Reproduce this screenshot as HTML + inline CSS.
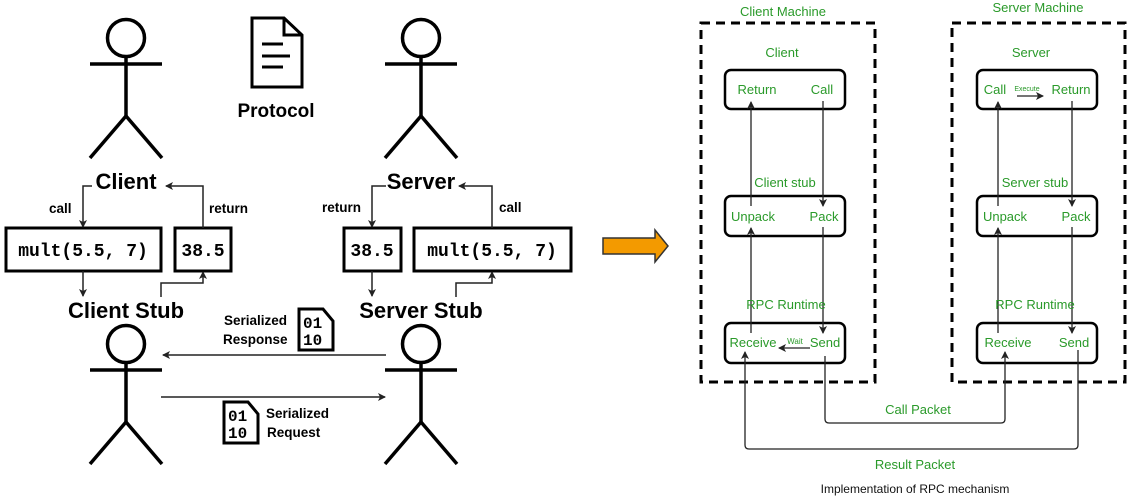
<!DOCTYPE html>
<html><head><meta charset="utf-8"><style>
html,body{margin:0;padding:0;background:#fff;}
svg{display:block;}
.b{font-family:"Liberation Sans",sans-serif;font-weight:bold;fill:#000;}
.m{font-family:"Liberation Mono",monospace;font-weight:bold;font-size:18px;fill:#000;}
.g{font-family:"Liberation Sans",sans-serif;font-size:13px;fill:#2a9a2a;}
</style></head><body>
<svg width="1140" height="501" viewBox="0 0 1140 501" xmlns="http://www.w3.org/2000/svg">
<defs>
<marker id="a" markerWidth="8" markerHeight="8" refX="7" refY="4" orient="auto" markerUnits="userSpaceOnUse"><path d="M0,0 L8,4 L0,8 L2,4 z" fill="#222"/></marker>
<g id="fig" stroke="#000" stroke-width="3.5" fill="none">
<circle cx="0" cy="0" r="18.5"/>
<line x1="0" y1="18" x2="0" y2="78"/>
<line x1="-36" y1="26" x2="36" y2="26"/>
<line x1="0" y1="78" x2="-36" y2="120"/>
<line x1="0" y1="78" x2="36" y2="120"/>
</g>
<g id="bin">
<path d="M0,0 L24,0 L34,12 L34,41 L0,41 z" fill="#fff" stroke="#000" stroke-width="3"/>
<text x="4" y="19" font-family="Liberation Mono,monospace" font-weight="bold" font-size="16">01</text>
<text x="4" y="36" font-family="Liberation Mono,monospace" font-weight="bold" font-size="16">10</text>
</g>
</defs>
<use href="#fig" x="126" y="38"/>
<use href="#fig" x="421" y="38"/>
<use href="#fig" x="126" y="344"/>
<use href="#fig" x="421" y="344"/>
<path d="M252,18 L284,18 L302,35 L302,87 L252,87 z" fill="#fff" stroke="#000" stroke-width="3"/>
<path d="M284,18 L284,35 L302,35" fill="none" stroke="#000" stroke-width="3"/>
<line x1="262" y1="44" x2="283" y2="44" stroke="#000" stroke-width="3"/>
<line x1="262" y1="56" x2="290" y2="56" stroke="#000" stroke-width="3"/>
<line x1="262" y1="67" x2="283" y2="67" stroke="#000" stroke-width="3"/>
<text x="276" y="117" class="b" font-size="19" text-anchor="middle">Protocol</text>
<text x="126" y="189" class="b" font-size="22" text-anchor="middle">Client</text>
<text x="421" y="189" class="b" font-size="22" text-anchor="middle">Server</text>
<text x="126" y="318" class="b" font-size="22" text-anchor="middle">Client Stub</text>
<text x="421" y="318" class="b" font-size="22" text-anchor="middle">Server Stub</text>
<g fill="#fff" stroke="#000" stroke-width="3">
<rect x="6" y="228" width="155" height="43"/>
<rect x="175" y="228" width="56" height="43"/>
<rect x="344" y="228" width="57" height="43"/>
<rect x="414" y="228" width="157" height="43"/>
</g>
<text x="83" y="256" class="m" text-anchor="middle">mult(5.5, 7)</text>
<text x="203" y="256" class="m" text-anchor="middle">38.5</text>
<text x="372" y="256" class="m" text-anchor="middle">38.5</text>
<text x="492" y="256" class="m" text-anchor="middle">mult(5.5, 7)</text>
<g fill="none" stroke="#222" stroke-width="1.5" marker-end="url(#a)">
<path d="M92,186 L83,186 L83,227"/>
<path d="M203,228 L203,186 L166,186"/>
<path d="M83,271 L83,296"/>
<path d="M161,297 L161,283 L203,283 L203,272"/>
<path d="M386,186 L372,186 L372,227"/>
<path d="M492,228 L492,186 L459,186"/>
<path d="M372,271 L372,296"/>
<path d="M456,297 L456,283 L492,283 L492,272"/>
<path d="M386,355 L163,355"/>
<path d="M161,397 L385,397"/>
</g>
<g class="b" style="font-size:13.5px">
<text x="49" y="213">call</text>
<text x="209" y="213">return</text>
<text x="322" y="212">return</text>
<text x="499" y="212">call</text>
<text x="224" y="325">Serialized</text>
<text x="223" y="344">Response</text>
<text x="266" y="418">Serialized</text>
<text x="267" y="437">Request</text>
</g>
<use href="#bin" x="299" y="309"/>
<use href="#bin" x="224" y="402"/>
<path d="M603,238 L655,238 L655,230 L668,246 L655,262 L655,254 L603,254 z" fill="#f39a00" stroke="#333" stroke-width="1.5"/>
<g fill="none" stroke="#000" stroke-width="3" stroke-dasharray="9,6">
<rect x="701" y="23" width="174" height="359"/>
<rect x="952" y="23" width="173" height="359"/>
</g>
<g fill="none" stroke="#000" stroke-width="2.5">
<rect x="725" y="70" width="120" height="39" rx="6"/>
<rect x="725" y="196" width="120" height="40" rx="6"/>
<rect x="725" y="323" width="120" height="40" rx="6"/>
<rect x="977" y="70" width="120" height="39" rx="6"/>
<rect x="977" y="196" width="120" height="40" rx="6"/>
<rect x="977" y="323" width="120" height="40" rx="6"/>
</g>
<g fill="none" stroke="#222" stroke-width="1.3" marker-end="url(#a)">
<path d="M751,206 L751,102"/>
<path d="M751,333 L751,228"/>
<path d="M823,101 L823,206"/>
<path d="M823,227 L823,333"/>
<path d="M998,206 L998,102"/>
<path d="M998,333 L998,228"/>
<path d="M1072,101 L1072,206"/>
<path d="M1072,227 L1072,333"/>
<path d="M810,348 L779,348"/>
<path d="M1017,96 L1043,96"/>
<path d="M825,356 L825,419 Q825,423 829,423 L1001,423 Q1005,423 1005,419 L1005,352"/>
<path d="M1078,350 L1078,445 Q1078,449 1074,449 L749,449 Q745,449 745,445 L745,352"/>
</g>
<text x="783" y="16" class="g" text-anchor="middle">Client Machine</text>
<text x="1038" y="12" class="g" text-anchor="middle">Server Machine</text>
<text x="782" y="57" class="g" text-anchor="middle">Client</text>
<text x="1031" y="57" class="g" text-anchor="middle">Server</text>
<text x="757" y="94" class="g" text-anchor="middle">Return</text>
<text x="822" y="94" class="g" text-anchor="middle">Call</text>
<text x="995" y="94" class="g" text-anchor="middle">Call</text>
<text x="1071" y="94" class="g" text-anchor="middle">Return</text>
<text x="1027" y="91" class="g" style="font-size:7px" text-anchor="middle">Execute</text>
<text x="785" y="187" class="g" text-anchor="middle">Client stub</text>
<text x="1035" y="187" class="g" text-anchor="middle">Server stub</text>
<text x="753" y="221" class="g" text-anchor="middle">Unpack</text>
<text x="824" y="221" class="g" text-anchor="middle">Pack</text>
<text x="1005" y="221" class="g" text-anchor="middle">Unpack</text>
<text x="1076" y="221" class="g" text-anchor="middle">Pack</text>
<text x="786" y="309" class="g" text-anchor="middle">RPC Runtime</text>
<text x="1035" y="309" class="g" text-anchor="middle">RPC Runtime</text>
<text x="753" y="347" class="g" text-anchor="middle">Receive</text>
<text x="825" y="347" class="g" text-anchor="middle">Send</text>
<text x="795" y="344" class="g" style="font-size:8px" text-anchor="middle">Wait</text>
<text x="1008" y="347" class="g" text-anchor="middle">Receive</text>
<text x="1074" y="347" class="g" text-anchor="middle">Send</text>
<text x="918" y="414" class="g" text-anchor="middle">Call Packet</text>
<text x="915" y="469" class="g" text-anchor="middle">Result Packet</text>
<text x="915" y="493" font-family="Liberation Sans,sans-serif" font-size="12" fill="#111" text-anchor="middle">Implementation of RPC mechanism</text>
</svg>
</body></html>
